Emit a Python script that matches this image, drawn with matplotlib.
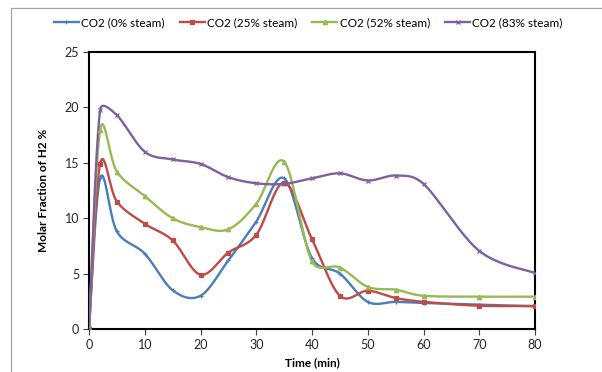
import numpy as np
import matplotlib
matplotlib.use("Agg")
import matplotlib.pyplot as plt
from matplotlib.patches import Rectangle

time_min = [0, 2, 5, 10, 15, 20, 25, 30, 35, 40, 45, 50, 55, 60, 70, 80]
co2_0 = [0, 13.6, 8.8, 6.8, 3.5, 3.0, 6.2, 9.7, 13.6, 6.4, 5.0, 2.45, 2.45, 2.35, 2.2, 2.05]
co2_25 = [0, 14.9, 11.5, 9.5, 8.0, 4.9, 6.9, 8.5, 13.2, 8.1, 3.0, 3.45, 2.8, 2.45, 2.1, 2.08]
co2_52 = [0, 18.0, 14.2, 12.0, 10.0, 9.2, 9.0, 11.3, 15.1, 6.1, 5.55, 3.8, 3.55, 3.0, 2.92, 2.92]
co2_83 = [0, 19.8, 19.3, 16.0, 15.3, 14.9, 13.7, 13.15, 13.1, 13.6, 14.05, 13.4, 13.85, 13.1, 7.05, 5.05]
series_labels = ["CO2 (0% steam)", "CO2 (25% steam)", "CO2 (52% steam)", "CO2 (83% steam)"]
x_ticks = [0, 10, 20, 30, 40, 50, 60, 70, 80]
y_ticks = [0, 5, 10, 15, 20, 25]

colors = ["#4A7EBB", "#BE4B48", "#98B954", "#7D60A0"]
markers = ["+", "s", "^", "x"]

# pixel scale of the plot area (for Excel-like smoothing in screen space)
SX = 446 / 80.0
SY = 277 / 25.0


def excel_smooth(xs, ys, n=40):
    P = np.column_stack([np.asarray(xs, float) * SX, np.asarray(ys, float) * SY])
    N = len(P)
    out = [P[0]]
    t = np.linspace(0, 1, n)[1:]
    for i in range(N - 1):
        p0 = P[i - 1] if i > 0 else P[i]
        p1 = P[i]
        p2 = P[i + 1]
        p3 = P[i + 2] if i + 2 < N else P[i + 1]
        d12 = np.hypot(*(p2 - p1))
        d02 = np.hypot(*(p2 - p0))
        d13 = np.hypot(*(p3 - p1))
        f1 = 1 / 6.0
        f2 = 1 / 6.0
        if d02 > 0 and d02 / 6.0 >= d12 / 2.0:
            f1 = d12 / (2.0 * d02)
        if d13 > 0 and d13 / 6.0 >= d12 / 2.0:
            f2 = d12 / (2.0 * d13)
        c1 = p1 + (p2 - p0) * f1
        c2 = p2 - (p3 - p1) * f2
        for tt in t:
            b = ((1 - tt) ** 3) * p1 + 3 * ((1 - tt) ** 2) * tt * c1 + 3 * (1 - tt) * tt ** 2 * c2 + tt ** 3 * p2
            out.append(b)
    out = np.array(out)
    return out[:, 0] / SX, out[:, 1] / SY


plt.rcParams['font.family'] = ['Lato', 'DejaVu Sans']
fig = plt.figure(figsize=(6.02, 3.72), dpi=100)
ax = fig.add_axes([89 / 602, 1 - 329 / 372, (535 - 89) / 602, (329 - 52) / 372])

handles = []
for ys, c, m, lab in zip([co2_0, co2_25, co2_52, co2_83], colors, markers, series_labels):
    sx, sy = excel_smooth(time_min, ys)
    ax.plot(sx, sy, color=c, lw=1.7, solid_capstyle='round', zorder=3)
    ax.plot(time_min, ys, linestyle='none', marker=m, color=c, ms=3.2, mew=0.9, zorder=4)
    h, = ax.plot([], [], color=c, lw=1.7, marker=m, ms=3.2, mew=0.9, label=lab)
    handles.append(h)

ax.set_xlim(0, 80)
ax.set_ylim(0, 25)
ax.set_xticks(x_ticks)
ax.set_yticks(y_ticks)
ax.tick_params(axis='both', labelsize=9, colors='#404040', length=4, width=0.8, direction='out', pad=3)
ax.tick_params(axis='both', labelcolor='#262626')
for s in ax.spines.values():
    s.set_color('black')
    s.set_linewidth(1.5)

ax.set_xlabel("Time (min)", fontsize=8.5, fontweight='bold', labelpad=5)
ax.set_ylabel("Molar Fraction of H2 %", fontsize=8.5, fontweight='bold', labelpad=11)

fig.legend(handles=handles, loc='center', bbox_to_anchor=(0.512, 1 - 23 / 372), ncol=4,
           frameon=False, fontsize=8.5, handlelength=2.1, columnspacing=1.3, handletextpad=0.2)

fig.patches.append(Rectangle((11 / 602, -0.1), 1.2, 1.1 - 8 / 372, transform=fig.transFigure,
                             fill=False, edgecolor='#A6A6A6', lw=0.9))

fig.savefig("out.png", dpi=100)
